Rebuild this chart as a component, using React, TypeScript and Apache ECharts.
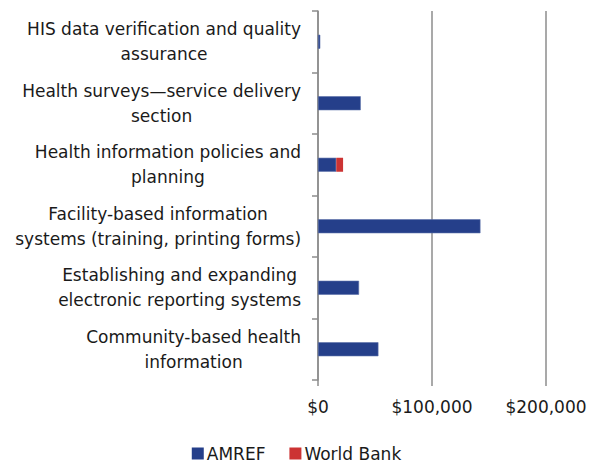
import React, { useEffect, useRef } from "react";
import * as echarts from "echarts";

const categories = [
  "Community-based health\ninformation",
  "Establishing and expanding\nelectronic reporting systems",
  "Facility-based information\nsystems (training, printing forms)",
  "Health information policies and\nplanning",
  "Health surveys—service delivery\nsection",
  "HIS data verification and quality\nassurance",
];
const amref = [53000, 36000, 142500, 16000, 37500, 2000];
const worldBank = [0, 0, 0, 6000, 0, 0];
const seriesNames = ["AMREF", "World Bank"];
const xTicks = [0, 100000, 200000];

const FONT = "DejaVu Sans";
const TXT = "#1a1a1a";
const FS = 17;

export default function App() {
  const ref = useRef<HTMLDivElement>(null);
  useEffect(() => {
    const chart = echarts.init(ref.current!, null, { renderer: "svg" });
    chart.setOption({
      animation: false,
      grid: { left: 318, right: 47, top: 11, bottom: 89, containLabel: false },
      legend: {
        bottom: 2,
        left: "center",
        itemWidth: 12,
        itemHeight: 12,
        itemGap: 24,
        icon: "rect",
        itemStyle: { borderWidth: 0 },
        textStyle: { fontFamily: FONT, fontSize: FS, color: TXT, padding: [0, 0, 0, -2] },
        data: seriesNames,
      },
      xAxis: {
        type: "value",
        min: xTicks[0],
        max: xTicks[xTicks.length - 1],
        interval: 100000,
        axisLine: { show: false },
        axisTick: { show: true, length: 6, lineStyle: { color: "#8c8c8c", width: 1.5 } },
        splitLine: { show: true, lineStyle: { color: "#8c8c8c", width: 1.5 } },
        axisLabel: {
          margin: 18,
          fontFamily: FONT,
          fontSize: FS,
          color: TXT,
          formatter: (v: number) => "$" + v.toLocaleString("en-US"),
        },
      },
      yAxis: {
        type: "category",
        data: categories,
        axisLine: { show: true, lineStyle: { color: "#8c8c8c", width: 1.5 } },
        axisTick: { show: true, length: 6, lineStyle: { color: "#8c8c8c", width: 1.5 } },
        axisLabel: {
          margin: 17,
          align: "right",
          formatter: (v: string) => v.split("\n").map((l) => `{c|${l}}`).join("\n"),
          rich: {
            c: { align: "center", fontFamily: FONT, fontSize: FS, color: TXT, lineHeight: 25 },
          },
        },
      },
      series: [
        {
          name: seriesNames[0],
          type: "bar",
          stack: "s",
          barWidth: 14,
          data: amref,
          itemStyle: { color: "#253F8A", borderColor: "#5a6ea8", borderWidth: 0.6 },
        },
        {
          name: seriesNames[1],
          type: "bar",
          stack: "s",
          barWidth: 14,
          data: worldBank,
          itemStyle: { color: "#CC3333" },
        },
      ],
    });
    return () => chart.dispose();
  }, []);
  return (
    <div
      ref={ref}
      style={{ position: "fixed", left: 0, top: 0, width: 593, height: 469, background: "#fff" }}
    />
  );
}
